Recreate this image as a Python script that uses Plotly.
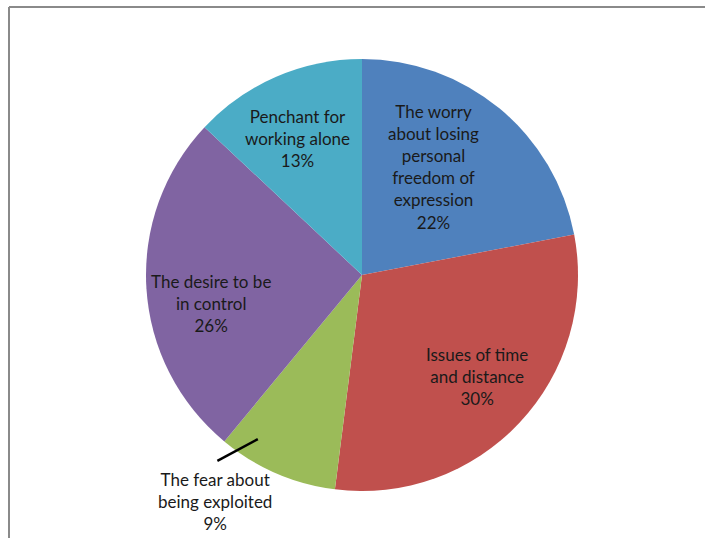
import math
import plotly.graph_objects as go

# Reasons for avoiding collaboration (share of responses)
labels = [
    "The worry<br>about losing<br>personal<br>freedom of<br>expression",
    "Issues of time<br>and distance",
    "The fear about<br>being exploited",
    "The desire to be<br>in control",
    "Penchant for<br>working alone",
]
values = [22, 30, 9, 26, 13]
colors = ["#4F81BD", "#C0504D", "#9BBB59", "#8064A2", "#4BACC6"]

# label placement: distance from centre (fraction of radius) and angular nudge (deg)
label_r = [0.60, 0.71, 1.25, 0.71, 0.70]
label_dang = [-6, -2, 9.5, -7, -2]

W, H = 705, 538
cx, cy, R = 362, 275, 216

fig = go.Figure(go.Pie(
    values=values,
    labels=[l.replace("<br>", " ") for l in labels],
    marker=dict(colors=colors, line=dict(width=0)),
    sort=False,
    direction="clockwise",
    rotation=0,
    textinfo="none",
    hoverinfo="label+percent",
    showlegend=False,
    domain=dict(x=[(cx - R) / W, (cx + R) / W], y=[1 - (cy + R) / H, 1 - (cy - R) / H]),
))

total = sum(values)
cum = 0
annotations = []
shapes = []
for i, v in enumerate(values):
    mid = (cum + v / 2) / total * 360
    cum += v
    ang = math.radians(mid + label_dang[i])
    r = R * label_r[i]
    px = cx + r * math.sin(ang)
    py = cy - r * math.cos(ang)
    pct = round(v / total * 100)
    annotations.append(dict(
        x=px / W, y=1 - py / H, xref="paper", yref="paper",
        text=f"{labels[i]}<br>{pct}%", showarrow=False,
        font=dict(family="Lato, Open Sans, sans-serif", size=17, color="#1a1a1a"),
        align="center", xanchor="center", yanchor="middle",
    ))
    if label_r[i] > 1:
        # leader line from inside the slice toward the outside label
        a0 = math.radians(mid + 9)
        a1 = math.radians(mid + 14.5)
        x0, y0 = cx + R * 0.90 * math.sin(a0), cy - R * 0.90 * math.cos(a0)
        x1, y1 = cx + R * 1.09 * math.sin(a1), cy - R * 1.09 * math.cos(a1)
        shapes.append(dict(type="line", xref="paper", yref="paper",
                           x0=x0 / W, y0=1 - y0 / H, x1=x1 / W, y1=1 - y1 / H,
                           line=dict(color="black", width=2.5)))

# frame along the left and top edges
shapes.append(dict(type="line", xref="paper", yref="paper",
                   x0=9 / W, y0=1 - 7 / H, x1=1, y1=1 - 7 / H,
                   line=dict(color="#8a8a8a", width=2)))
shapes.append(dict(type="line", xref="paper", yref="paper",
                   x0=9 / W, y0=1 - 7 / H, x1=9 / W, y1=0,
                   line=dict(color="#8a8a8a", width=2)))

fig.update_layout(
    width=W, height=H,
    margin=dict(l=0, r=0, t=0, b=0),
    paper_bgcolor="white",
    plot_bgcolor="white",
    annotations=annotations,
    shapes=shapes,
)

fig.write_html("out.html")
